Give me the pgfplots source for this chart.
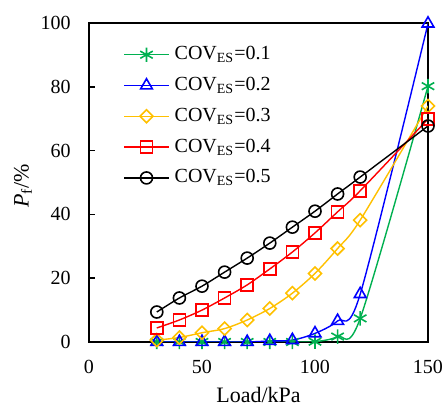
\documentclass[border=0pt]{standalone}
\usepackage{fontspec}
\setmainfont{Liberation Serif}
\usepackage{pgfplots}
\pgfplotsset{compat=1.18}
\definecolor{cgreen}{RGB}{0,176,80}
\definecolor{cblue}{RGB}{0,0,255}
\definecolor{cyellow}{RGB}{255,192,0}
\definecolor{cred}{RGB}{255,0,0}
\begin{document}
\begin{tikzpicture}
\useasboundingbox (-44.5pt,-32pt) rectangle (178pt,171pt);
\begin{axis}[
  at={(0,0)}, anchor=south west,
  scale only axis, width=169.5pt, height=159.5pt,
  xmin=0, xmax=150, ymin=0, ymax=100,
  xtick={0,50,100,150}, ytick={0,20,40,60,80,100},
  axis line style={line width=1pt},
  xtick style={draw=none},
  ytick style={line width=0.8pt, black},
  ytick pos=left, ytick align=inside, major tick length=3pt,
  /pgf/number format/assume math mode=true,
  tick label style={font=\fontsize{10}{12}\selectfont},
  yticklabel style={xshift=-5.7pt},
  xticklabel style={yshift=-5.7pt},
  xlabel={Load/kPa},
  ylabel={\textit{P}\textsubscript{f}/\%},
  label style={font=\fontsize{11}{13}\selectfont},
  xlabel style={at={(axis description cs:0.5,-0.166)},anchor=center},
  ylabel style={at={(axis description cs:-0.195,0.49)},anchor=center,rotate=0},
  legend style={draw=none, fill=none, inner sep=0pt, at={(axis description cs:0.1,0.93)}, anchor=north west,
    nodes={inner sep=0pt, text height=7pt, text depth=2pt, font=\fontsize{10}{12}\selectfont},
    row sep=6.4pt, column sep=2.5pt},
  legend cell align=left,
  legend image code/.code={\draw[mark repeat=2,mark phase=2] plot coordinates {(0pt,0pt) (11.25pt,0pt) (22.5pt,0pt)};},
  every axis plot/.append style={line width=0.7pt, smooth},
]
\addplot[cgreen, mark=asterisk, mark size=3.6pt, mark options={line width=0.8pt}] coordinates {
(30,0) (40,0) (50,0) (60,0) (70,0) (80,0) (90,0) (100,0.1) (110,1.7) (120,7.4) (150,80.2)};
\addlegendentry{COV\textsubscript{ES}=0.1}
\addplot[cblue, mark=triangle, mark size=3.4pt, mark options={line width=0.8pt, fill=white}] coordinates {
(30,0) (40,0) (50,0) (60,0) (70,0) (80,0.3) (90,0.6) (100,2.7) (110,6.6) (120,15.0) (150,99.8)};
\addlegendentry{COV\textsubscript{ES}=0.2}
\addplot[cyellow, mark=square, mark size=2.3pt, mark options={rotate=45, line width=0.8pt, fill=white}] coordinates {
(30,0.6) (40,1.4) (50,2.9) (60,4.2) (70,6.9) (80,10.5) (90,15.3) (100,21.5) (110,29.3) (120,38.2) (150,74.0)};
\addlegendentry{COV\textsubscript{ES}=0.3}
\addplot[cred, mark=square, mark size=3pt, mark options={line width=0.8pt, fill=white}] coordinates {
(30,4.4) (40,6.9) (50,10.0) (60,13.8) (70,17.9) (80,22.9) (90,28.2) (100,34.2) (110,40.8) (120,47.4) (150,69.9)};
\addlegendentry{COV\textsubscript{ES}=0.4}
\addplot[black, mark=o, mark size=3pt, mark options={line width=0.8pt, fill=white}] coordinates {
(30,9.4) (40,13.8) (50,17.5) (60,21.9) (70,26.3) (80,31.0) (90,36.0) (100,41.0) (110,46.4) (120,51.7) (150,67.7)};
\addlegendentry{COV\textsubscript{ES}=0.5}
\end{axis}
\end{tikzpicture}
\end{document}
